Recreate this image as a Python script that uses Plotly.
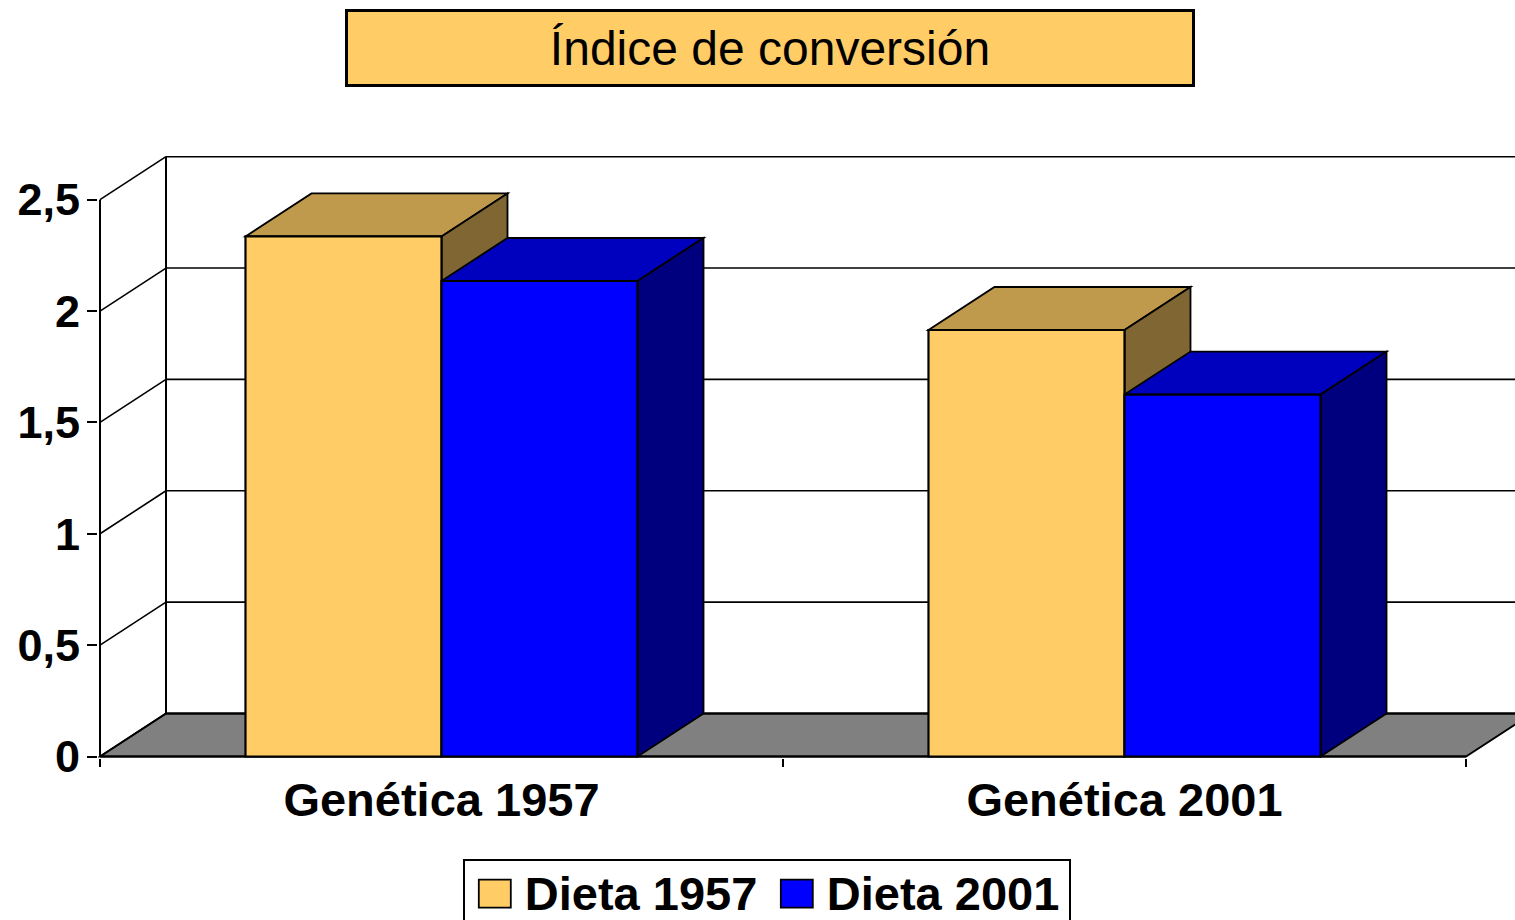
import plotly.graph_objects as go

categories = ["Genética 1957", "Genética 2001"]
series_names = ["Dieta 1957", "Dieta 2001"]
dieta_1957 = [2.335, 1.915]
dieta_2001 = [2.135, 1.625]
y_tick_values = [0, 0.5, 1, 1.5, 2, 2.5]
y_tick_labels = ["0", "0,5", "1", "1,5", "2", "2,5"]
title_text = "Índice de conversión"

FACE = ["#FFCC66", "#0000FF"]
TOP = ["#BF994C", "#0000BF"]
SIDE = ["#7F6633", "#00007F"]
FLOOR = "#808080"
FONT = "Liberation Sans"

# geometry of the oblique projection
PX_CAT = 683.0
PX_UNIT = 222.8
DX = 66 / PX_CAT
DY = 43 / PX_UNIT
BARGAP = 0.426
W = (1 - BARGAP) / 2
ZERO_PX = 756.7
L, T, B = 98, 150, 758.2
FIG_W, FIG_H = 1515, 920
x0 = -0.5 - (100 - L) / PX_CAT
x1 = x0 + (FIG_W - L) / PX_CAT
y0 = -(B - ZERO_PX) / PX_UNIT
y1 = y0 + (B - T) / PX_UNIT


def poly(pts, fill, lw=1.8):
    path = "M" + " L".join(f"{x},{y}" for x, y in pts) + " Z"
    return dict(type="path", path=path, xref="x", yref="y", layer="below",
                fillcolor=fill, line=dict(color="black", width=lw))


def seg(a, b, lw=1.6):
    return dict(type="line", xref="x", yref="y", layer="below",
                x0=a[0], y0=a[1], x1=b[0], y1=b[1],
                line=dict(color="black", width=lw))


shapes = []
xl, xr = -0.5, 1.5
# floor
shapes.append(poly([(xl, 0), (xl + DX, DY), (xr + DX, DY), (xr, 0)], FLOOR))
# walls
for v in y_tick_values:
    shapes.append(seg((xl, v), (xl + DX, v + DY)))
    shapes.append(seg((xl + DX, v + DY), (xr + DX, v + DY), 1.6 if v else 2.2))
shapes.append(seg((xl + DX, DY), (xl + DX, y_tick_values[-1] + DY), 2))
shapes.append(seg((xl, 0), (xl, y_tick_values[-1]), 2))
shapes.append(seg((xl, 0), (xr, 0), 2.2))
# depth faces of the bars
for i in range(len(categories)):
    for s, vals in enumerate([dieta_1957, dieta_2001]):
        a = i - W + s * W
        b = a + W
        v = vals[i]
        shapes.append(poly([(a, v), (a + DX, v + DY), (b + DX, v + DY), (b, v)], TOP[s]))
        shapes.append(poly([(b, v), (b + DX, v + DY), (b + DX, DY), (b, 0)], SIDE[s]))

fig = go.Figure()
for s, vals in enumerate([dieta_1957, dieta_2001]):
    fig.add_trace(go.Bar(name=series_names[s], x=categories, y=vals,
                         marker=dict(color=FACE[s], line=dict(color="black", width=2.2)),
                         hoverinfo="skip"))

fig.update_layout(
    width=FIG_W, height=FIG_H,
    margin=dict(l=L, r=0, t=T, b=FIG_H - B, pad=0, autoexpand=False),
    paper_bgcolor="white", plot_bgcolor="white",
    barmode="group", bargap=BARGAP, bargroupgap=0,
    font=dict(family=FONT, color="black"),
    shapes=shapes,
    xaxis=dict(type="category", categoryorder="array", categoryarray=categories,
               range=[x0, x1], tickson="boundaries", ticks="outside", ticklen=8,
               tickwidth=1.8, tickcolor="black", showgrid=False, zeroline=False,
               showline=False, tickangle=0, ticklabelstandoff=10,
               tickfont=dict(family=FONT, size=47, color="black", weight="bold")),
    yaxis=dict(range=[y0, y1], tickmode="array", tickvals=y_tick_values,
               ticktext=y_tick_labels, ticks="outside", ticklen=10, tickwidth=1.8,
               tickcolor="black", showgrid=False, zeroline=False, showline=False,
               ticklabelstandoff=-2,
               tickfont=dict(family=FONT, size=45, color="black", weight="bold")),
    showlegend=True,
    legend=dict(orientation="h", xref="paper", yref="paper",
                x=(463 - L) / (FIG_W - L), y=(B - 859) / (B - T),
                xanchor="left", yanchor="top", bgcolor="white",
                bordercolor="black", borderwidth=1.8, itemwidth=50,
                entrywidth=237, entrywidthmode="pixels", traceorder="normal",
                font=dict(family=FONT, size=47, color="black", weight="bold")),
    annotations=[dict(text=title_text, xref="paper", yref="paper",
                      x=(769.5 - L) / (FIG_W - L), y=(B - 47.5) / (B - T),
                      xanchor="center", yanchor="middle", showarrow=False,
                      width=844, height=72, bgcolor=FACE[0], bordercolor="black",
                      borderwidth=3, borderpad=0,
                      font=dict(family=FONT, size=48, color="black"))],
)

post = """
document.body.style.margin = '0';
(function () {
  var gd = document.getElementById('{plot_id}');
  var D = 'M16,10H-16V-18H16Z';
  function fix() {
    gd.querySelectorAll('.legendpoints path').forEach(function (p) {
      p.setAttribute('d', D);
      p.style.d = 'path("' + D + '")';
      p.style.strokeWidth = '1.8px';
    });
    gd.querySelectorAll('.legendtext').forEach(function (t) {
      t.setAttribute('transform', 'translate(0,-6)');
    });
  }
  gd.on('plotly_afterplot', fix);
  fix();
  var n = 0, h = setInterval(function () { fix(); if (++n > 30) clearInterval(h); }, 50);
})();
"""
fig.write_html("out.html", post_script=post, config={"displayModeBar": False})
